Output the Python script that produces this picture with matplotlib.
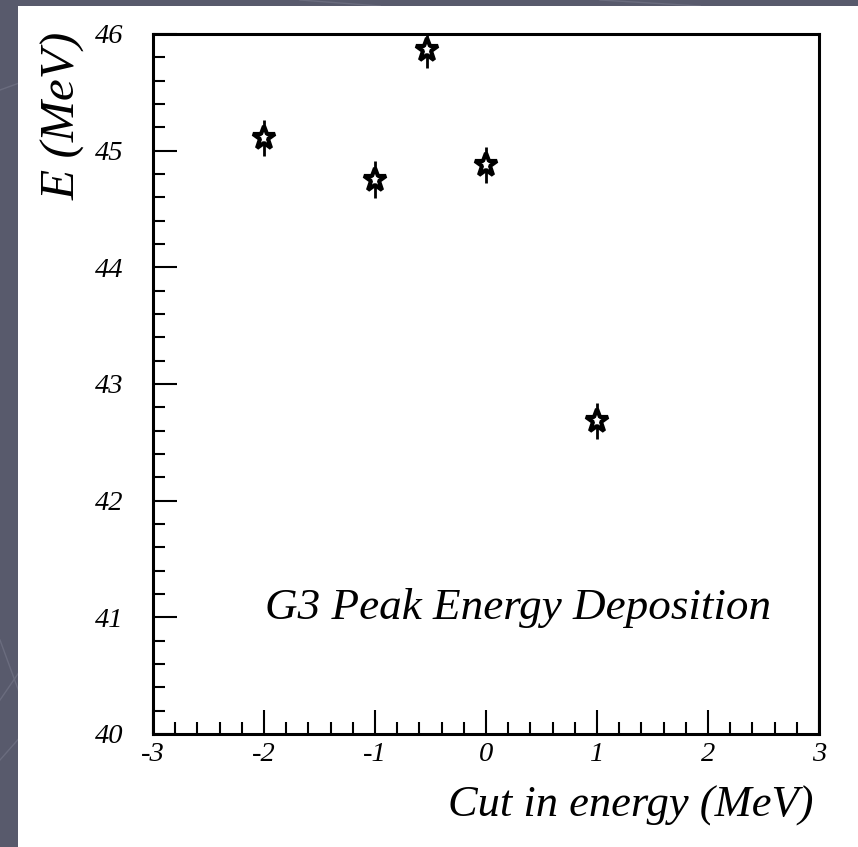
import matplotlib
matplotlib.use("Agg")
import matplotlib.pyplot as plt
from matplotlib.patches import Rectangle
from matplotlib.lines import Line2D
from matplotlib.ticker import MultipleLocator, FixedLocator

# Peak energy vs. energy cut
cut = [-2.0, -1.0, -0.53, 0.0, 1.0]
energy = [45.11, 44.75, 45.86, 44.88, 42.68]
energy_err = [0.155, 0.16, 0.155, 0.155, 0.155]

xticks = [-3, -2, -1, 0, 1, 2, 3]
xtick_labels = ["-3", "-2", "-1", "0", "1", "2", "3"]
yticks = [40, 41, 42, 43, 44, 45, 46]
ytick_labels = ["40", "41", "42", "43", "44", "45", "46"]

FONT = "Liberation Serif"
W, H = 858, 847
fig = plt.figure(figsize=(W / 100, H / 100), dpi=100)
fig.patch.set_facecolor("#585a6c")

# faint decorative strokes on the slide background
for (x0, y0, x1, y1) in [(0, 640, 22, 700), (0, 700, 22, 668), (0, 760, 22, 735),
                         (0, 90, 22, 82), (300, 0, 380, 6), (600, 0, 700, 6)]:
    fig.add_artist(Line2D([x0 / W, x1 / W], [1 - y0 / H, 1 - y1 / H],
                          transform=fig.transFigure, color="#6a6c7e", lw=1.0, zorder=0))

# white slide panel
fig.add_artist(Rectangle((18 / W, 0), 1 - 18 / W, 1 - 6 / H, transform=fig.transFigure,
                         facecolor="white", edgecolor="none", zorder=1))

ax = fig.add_axes([153 / W, 1 - 734 / H, (819 - 153) / W, (734 - 34) / H])
ax.set_zorder(2)
ax.set_facecolor("white")
ax.set_xlim(-3, 3)
ax.set_ylim(40, 46)

ax.errorbar(cut, energy, yerr=energy_err, fmt="none", ecolor="black",
            elinewidth=2.0, capsize=0, zorder=3, clip_on=True)
ax.plot(cut, energy, linestyle="none", marker="*", markersize=17,
        markerfacecolor="white", markeredgecolor="black", markeredgewidth=3.0,
        zorder=4, clip_on=False)

for side in ["left", "bottom", "top", "right"]:
    ax.spines[side].set_linewidth(2.2)
    ax.spines[side].set_color("black")

ax.xaxis.set_major_locator(FixedLocator(xticks))
ax.yaxis.set_major_locator(FixedLocator(yticks))
ax.xaxis.set_minor_locator(MultipleLocator(0.2))
ax.yaxis.set_minor_locator(MultipleLocator(0.2))
ax.set_xticklabels(xtick_labels)
ax.set_yticklabels(ytick_labels)

ax.tick_params(axis="both", which="both", direction="in", top=False, right=False,
               width=1.5, color="black")
ax.tick_params(axis="both", which="major", length=17.5)
ax.tick_params(axis="both", which="minor", length=8.6)
ax.tick_params(axis="y", which="major", pad=21.5)
ax.tick_params(axis="x", which="major", pad=6)

for lab in ax.get_xticklabels() + ax.get_yticklabels():
    lab.set_fontfamily(FONT)
    lab.set_fontstyle("italic")
    lab.set_fontsize(20.5)

fig.text(63 / W, 1 - 32 / H, "E (MeV)", rotation=90, ha="center", va="top",
         family=FONT, style="italic", fontsize=35.5, zorder=5)
fig.text(813 / W, 1 - 817 / H, "Cut in energy (MeV)", ha="right", va="baseline",
         family=FONT, style="italic", fontsize=32, zorder=5)
fig.text(265 / W, 1 - 619 / H, "G3 Peak Energy Deposition", ha="left", va="baseline",
         family=FONT, style="italic", fontsize=32.5, zorder=5)

fig.savefig("out.png", dpi=100)
